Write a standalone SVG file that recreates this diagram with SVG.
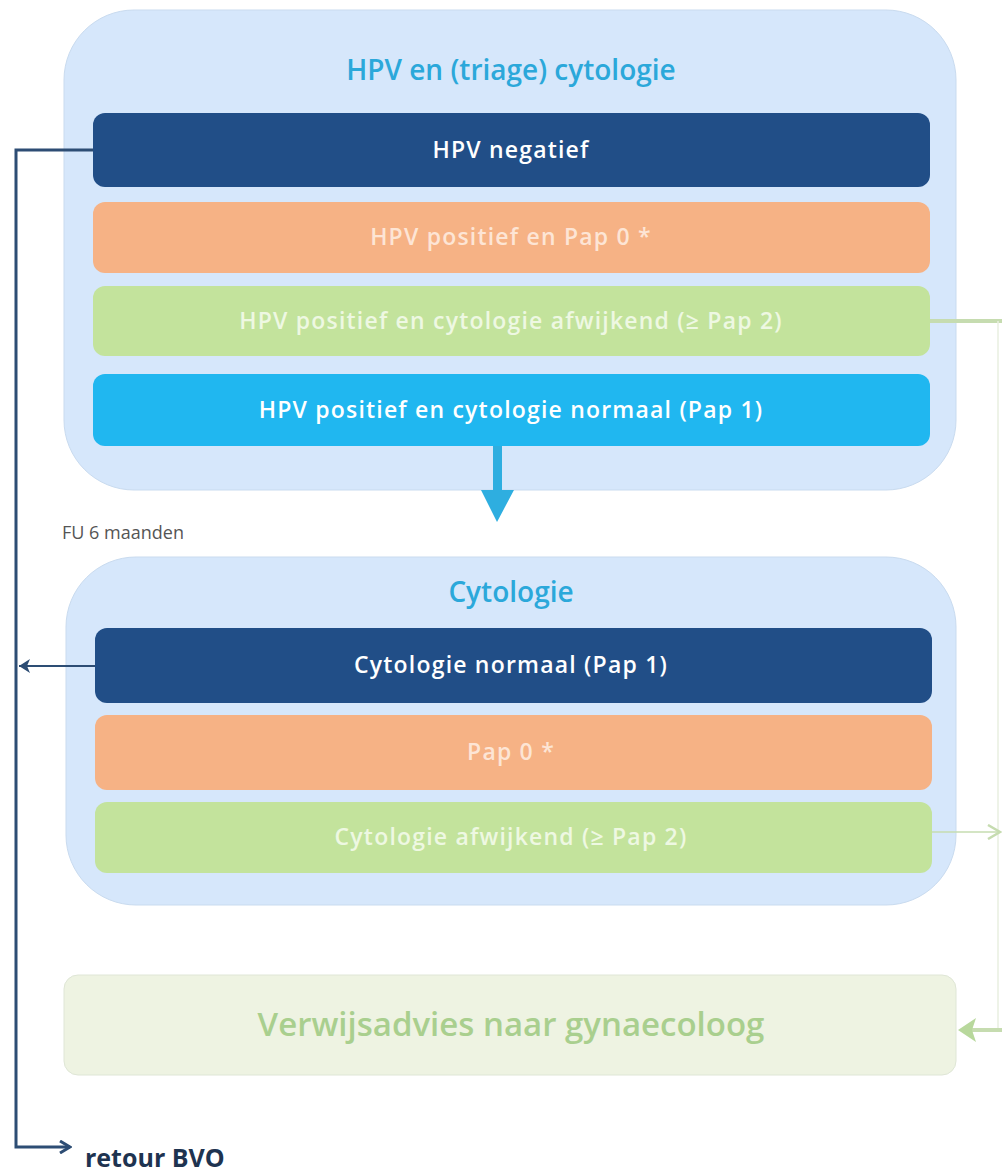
<svg xmlns="http://www.w3.org/2000/svg" width="1002" height="1176" viewBox="0 0 1002 1176">
<style>
.outer{fill:#d6e7fb;stroke:#c9dbef;stroke-width:1}
.bar{stroke:none}
.t{font-family:"Open Sans","Liberation Sans",sans-serif;text-anchor:middle}
.bt{font-size:23px;font-weight:600;letter-spacing:1.2px}
.title{font-size:28px;font-weight:600;fill:#2ba8da}
</style>
<defs>
<marker id="navyArrow" markerWidth="12" markerHeight="14" refX="11" refY="7" orient="auto" markerUnits="userSpaceOnUse">
<path d="M0,0 L11,7 L0,14 L3,7 Z" fill="#2d4d74"/>
</marker>
<marker id="navyArrowR" markerWidth="14" markerHeight="14" refX="12" refY="7" orient="auto" markerUnits="userSpaceOnUse">
<path d="M2,1 L12,7 L2,13" fill="none" stroke="#2d4d74" stroke-width="3"/>
</marker>
<marker id="greenArrow" markerWidth="16" markerHeight="16" refX="14" refY="8" orient="auto" markerUnits="userSpaceOnUse">
<path d="M2,1 L14,8 L2,15" fill="none" stroke="#c6dcb0" stroke-width="2.5"/>
</marker>
</defs>
<rect width="1002" height="1176" fill="#ffffff"/>

<g id="box-hpv">
<rect class="outer" x="64" y="10" width="892" height="480" rx="70"/>
<text class="t title" x="511" y="80">HPV en (triage) cytologie</text>
</g>
<g id="hpv-negatief">
<rect class="bar" x="93" y="113" width="837" height="74" rx="12" fill="#214e87"/>
<text class="t bt" x="511" y="158" fill="#ffffff">HPV negatief</text>
</g>
<g id="hpv-pap0">
<rect class="bar" x="93" y="202" width="837" height="71" rx="12" fill="#f6b285"/>
<text class="t bt" x="511" y="245" fill="#fde5d5">HPV positief en Pap 0 *</text>
</g>
<g id="hpv-afwijkend">
<rect class="bar" x="93" y="286" width="837" height="70" rx="12" fill="#c3e39c"/>
<text class="t bt" x="511" y="329" fill="#eef8e2">HPV positief en cytologie afwijkend (≥ Pap 2)</text>
</g>
<g id="hpv-normaal">
<rect class="bar" x="93" y="374" width="837" height="72" rx="12" fill="#20b7f0"/>
<text class="t bt" x="511" y="418" fill="#ffffff">HPV positief en cytologie normaal (Pap 1)</text>
</g>

<g id="fu-label">
<text x="62" y="539" font-family="'Open Sans','Liberation Sans',sans-serif" font-size="18" fill="#555555">FU 6 maanden</text>
</g>

<g id="box-cyto">
<rect class="outer" x="66" y="557" width="890" height="348" rx="70"/>
<text class="t title" x="511" y="602">Cytologie</text>
</g>
<g id="cyto-normaal">
<rect class="bar" x="95" y="628" width="837" height="75" rx="12" fill="#214e87"/>
<text class="t bt" x="511" y="673" fill="#ffffff">Cytologie normaal (Pap 1)</text>
</g>
<g id="cyto-pap0">
<rect class="bar" x="95" y="715" width="837" height="75" rx="12" fill="#f6b285"/>
<text class="t bt" x="511" y="760" fill="#fde5d5">Pap 0 *</text>
</g>
<g id="cyto-afwijkend">
<rect class="bar" x="95" y="802" width="837" height="71" rx="12" fill="#c3e39c"/>
<text class="t bt" x="511" y="845" fill="#eef8e2">Cytologie afwijkend (≥ Pap 2)</text>
</g>

<g id="verwijs">
<rect x="64" y="975" width="892" height="100" rx="14" fill="#eef3e2" stroke="#dfe6d6" stroke-width="1"/>
<text class="t" x="511" y="1036" font-size="33" font-weight="600" fill="#a9cf8e">Verwijsadvies naar gynaecoloog</text>
</g>

<g id="retour">
<text x="85" y="1167" font-family="'Open Sans','Liberation Sans',sans-serif" font-size="25" font-weight="bold" fill="#1e3350">retour BVO</text>
</g>

<g id="connectors">
<polyline points="93,150 16,150 16,1147 70,1147" fill="none" stroke="#2d4d74" stroke-width="3" marker-end="url(#navyArrowR)"/>
<line x1="95" y1="666" x2="19" y2="666" stroke="#2d4d74" stroke-width="2" marker-end="url(#navyArrow)"/>
<rect x="493" y="446" width="9" height="46" fill="#2eaee0"/>
<polygon points="481,490 514,490 497,522" fill="#2eaee0"/>
<line x1="930" y1="321" x2="1002" y2="321" stroke="#c6dcb0" stroke-width="4"/>
<line x1="998" y1="321" x2="998" y2="1030" stroke="#e8efe0" stroke-width="1.5"/>
<line x1="932" y1="832" x2="1000" y2="832" stroke="#c6dcb0" stroke-width="1.5" marker-end="url(#greenArrow)"/>
<line x1="1002" y1="1030" x2="962" y2="1030" stroke="#c6dcb0" stroke-width="4"/>
<polygon points="958,1030 976,1018 972,1030 976,1042" fill="#b8d89c"/>
</g>
</svg>
